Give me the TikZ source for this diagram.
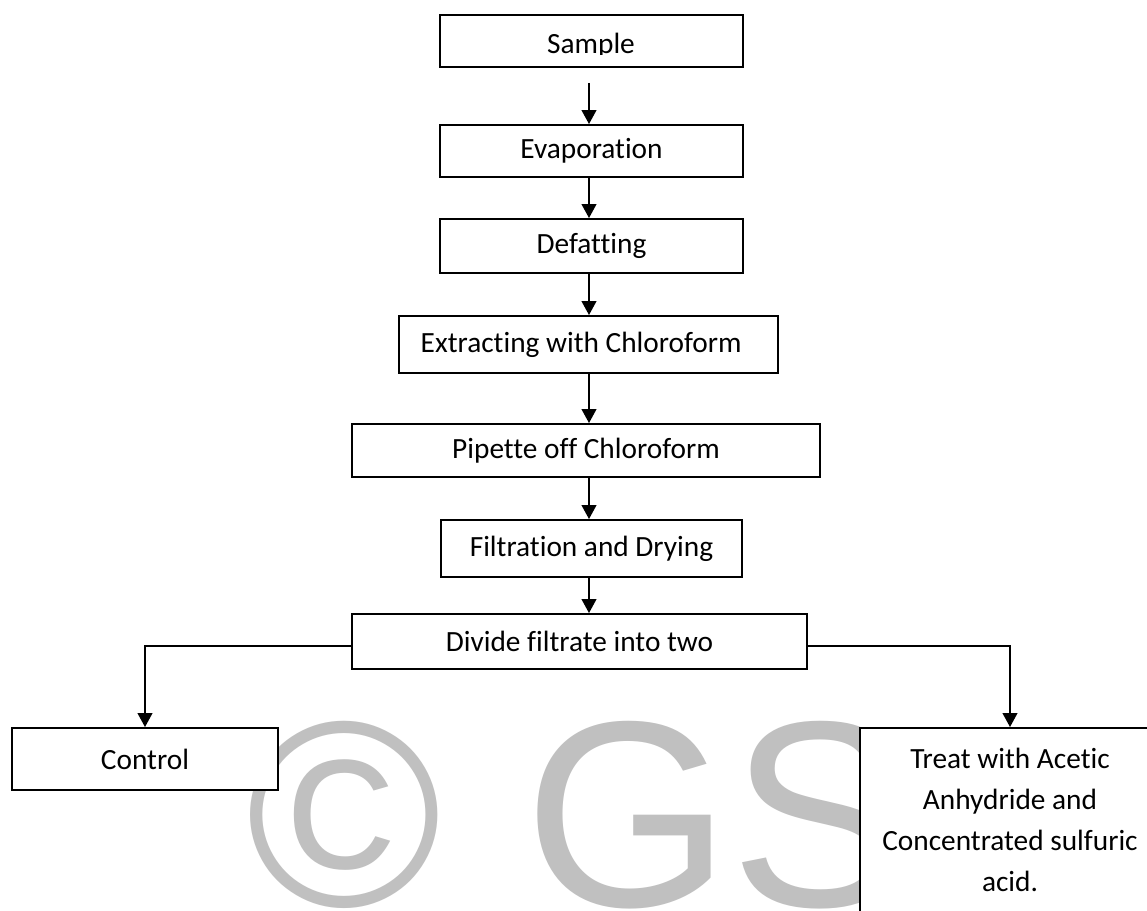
\documentclass[tikz,border=0pt]{standalone}
\usepackage{fontspec}
\setmainfont{Carlito}[Ligatures=NoCommon]
\newfontfamily\wmfont{Liberation Sans}
\usetikzlibrary{arrows.meta}

\begin{document}
\begin{tikzpicture}[x=0.75pt,y=-0.75pt,
  stepbox/.style={draw=drawColor,fill=white,line width=1.4pt,inner sep=0pt,
    font=\fontsize{22}{30.75}\selectfont},
  steptext/.style={inner sep=0pt,font=\fontsize{22}{30.75}\selectfont},
  flow/.style={draw=drawColor,line width=1.5pt,-{Triangle[width=11pt,length=10.5pt]}},
  wmark/.style={text=wmColor,inner sep=0pt,anchor=base west,
    font=\wmfont\fontsize{199}{199}\selectfont}]
\definecolor{drawColor}{RGB}{0,0,0}
\definecolor{wmColor}{RGB}{192,192,192}
\path[use as bounding box,fill=white] (0,0) rectangle (1147,911);
\begin{scope}
\path[clip] (0,0) rectangle (1147,911);

% watermark
\node[wmark] (wmcopy) at (246,906) {©};
\node[wmark] (wmgs) at (524,906) {GS};

% main column
\coordinate (spine) at (589,0);
\node[stepbox,minimum width=227.25pt,minimum height=39pt] (sample) at (591.5,41) {};
\begin{scope}
\path[clip] (440,15) rectangle (743,54.5);
\node[steptext,anchor=base] (sampletxt) at (591,53) {Sample};
\end{scope}
\node[stepbox,minimum width=227.25pt,minimum height=39pt] (evap) at (591.5,151) {Evaporation};
\node[stepbox,minimum width=227.25pt,minimum height=40.5pt] (defat) at (591.5,246) {Defatting};
\node[stepbox,minimum width=284.25pt,minimum height=42.75pt] (extract) at (588.5,344.5) {Extracting with Chloroform\hspace*{11pt}};
\node[stepbox,minimum width=351pt,minimum height=39.75pt] (pipette) at (586,450.5) {Pipette off Chloroform};
\node[stepbox,minimum width=225.75pt,minimum height=42.75pt] (filtr) at (591.5,548.5) {Filtration and Drying};
\node[stepbox,minimum width=341.25pt,minimum height=41.25pt] (divide) at (579.5,641.5) {Divide filtrate into two};

% branches
\node[stepbox,minimum width=199.5pt,minimum height=46.5pt] (control) at (145,759) {Control};
\node[stepbox,minimum width=225pt,minimum height=151.5pt] (treat) at (1010,829) {};
\node[steptext,align=center] (treattxt) at (1010,820) {Treat with Acetic\\Anhydride and\\Concentrated sulfuric\\acid.};

\draw[flow,shorten <=11.25pt] (sample.south -| spine) -- (evap.north -| spine);
\draw[flow] (evap.south -| spine) -- (defat.north -| spine);
\draw[flow] (defat.south -| spine) -- (extract.north -| spine);
\draw[flow] (extract.south -| spine) -- (pipette.north -| spine);
\draw[flow] (pipette.south -| spine) -- (filtr.north -| spine);
\draw[flow] (filtr.south -| spine) -- (divide.north -| spine);
\draw[flow] ([yshift=-3pt]divide.west) -| (control.north);
\draw[flow] ([yshift=-3pt]divide.east) -| (treat.north);
\end{scope}
\end{tikzpicture}
\end{document}
